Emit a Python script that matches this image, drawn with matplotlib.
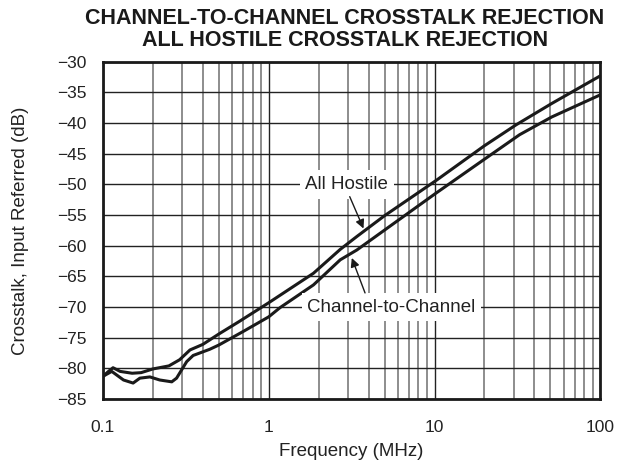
import matplotlib
matplotlib.use('Agg')
import matplotlib.pyplot as plt
from matplotlib.ticker import LogLocator, NullFormatter

plt.rcParams['font.family'] = ['Liberation Sans', 'DejaVu Sans']

# All Hostile crosstalk (upper curve)
hostile_freq = [0.1, 0.108, 0.115, 0.127, 0.15, 0.17, 0.2, 0.25, 0.29, 0.335, 0.4,
                0.5, 0.66, 1.0, 1.86, 2.7, 3.4, 5.0, 10.3, 20.0, 31.0, 51.0, 100.0]
hostile_db = [-81.3, -80.5, -79.9, -80.5, -80.8, -80.7, -80.1, -79.6, -78.6, -77.0, -76.1,
              -74.4, -72.4, -69.3, -64.5, -60.6, -58.5, -55.1, -49.3, -43.7, -40.3, -36.8, -32.3]

# Channel-to-Channel crosstalk (lower curve)
c2c_freq = [0.1, 0.113, 0.133, 0.152, 0.167, 0.192, 0.22, 0.26, 0.278, 0.32, 0.35,
            0.44, 0.5, 0.7, 1.0, 1.17, 1.86, 2.7, 3.4, 10.0, 20.0, 32.6, 51.0, 100.0]
c2c_db = [-81.3, -80.5, -81.9, -82.4, -81.6, -81.4, -81.9, -82.2, -81.6, -78.9, -77.9,
          -76.9, -76.2, -74.0, -71.6, -70.1, -66.4, -62.3, -60.7, -51.6, -45.9, -41.9, -39.0, -35.4]

x_ticks = [0.1, 1, 10, 100]
x_labels = ['0.1', '1', '10', '100']
y_ticks = list(range(-85, -29, 5))

# callouts: label, text position, arrow tail, arrow tip
callouts = [
    ('All Hostile', (2.95, -50.0), (3.08, -52.0), (3.73, -57.2)),
    ('Channel-to-Channel', (5.5, -70.0), (3.81, -67.7), (3.17, -62.0)),
]

fig = plt.figure(figsize=(6.24, 4.75), dpi=100)
ax = fig.add_axes([0.165, 0.16, 0.797, 0.71])

ax.plot(hostile_freq, hostile_db, color='#1a1a1a', lw=2.2, zorder=3)
ax.plot(c2c_freq, c2c_db, color='#1a1a1a', lw=2.2, zorder=3)

ax.set_xscale('log')
ax.set_xlim(0.1, 100)
ax.set_ylim(-85, -30)
ax.set_xticks(x_ticks)
ax.set_xticklabels(x_labels)
ax.xaxis.set_minor_locator(LogLocator(base=10, subs=range(2, 10)))
ax.xaxis.set_minor_formatter(NullFormatter())
ax.set_yticks(y_ticks)
ax.set_yticklabels(['\u2212%d' % abs(v) for v in y_ticks])

ax.grid(True, which='major', axis='x', color='#222222', lw=1.0)
ax.grid(True, which='minor', axis='x', color='#7a7a7a', lw=1.2)
ax.grid(True, which='major', axis='y', color='#222222', lw=1.0)
ax.tick_params(which='both', length=0, labelsize=12.5, colors='#222222')
ax.tick_params(axis='x', pad=15)
ax.tick_params(axis='y', pad=12)

for s in ax.spines.values():
    s.set_linewidth(2.0)
    s.set_color('#1a1a1a')

ax.set_xlabel('Frequency (MHz)', fontsize=13.5, color='#222222', va='center')
ax.set_ylabel('Crosstalk, Input Referred (dB)', fontsize=13.5, color='#222222', va='center')
ax.xaxis.set_label_coords(0.5, -0.157)
ax.yaxis.set_label_coords(-0.165, 0.5)

fig.text(0.553, 1 - 18 / 475, 'CHANNEL-TO-CHANNEL CROSSTALK REJECTION',
         ha='center', va='center', fontsize=15.5, fontweight='bold', color='#1a1a1a')
fig.text(0.553, 1 - 41 / 475, 'ALL HOSTILE CROSSTALK REJECTION',
         ha='center', va='center', fontsize=15.5, fontweight='bold', color='#1a1a1a')

box = dict(boxstyle='square,pad=0.3', fc='white', ec='none')
arrow = dict(arrowstyle='-|>', color='#1a1a1a', lw=1.0, mutation_scale=13, shrinkA=0, shrinkB=0)
for label, pos, tail, tip in callouts:
    ax.text(pos[0], pos[1], label, fontsize=13.5, ha='center', va='center',
            bbox=box, zorder=4, color='#222222')
    ax.annotate('', xy=tip, xytext=tail, arrowprops=arrow, zorder=5)

fig.savefig('out.png', dpi=100)
